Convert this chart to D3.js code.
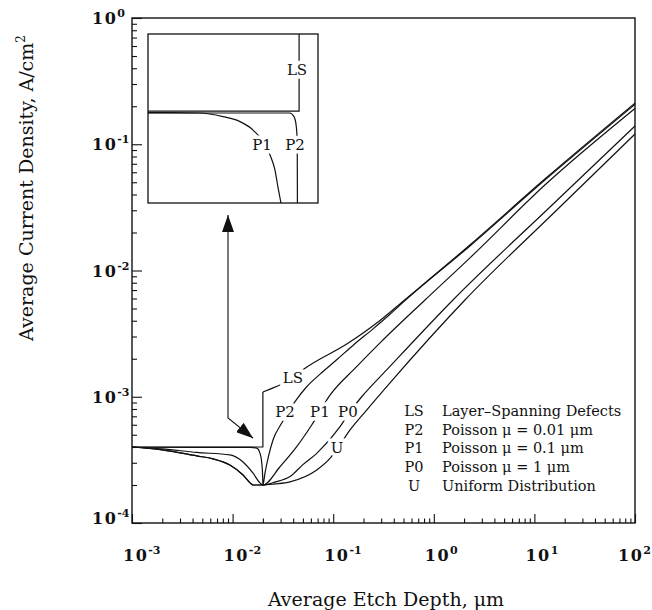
<!DOCTYPE html>
<html>
<head>
<meta charset="utf-8">
<script src="https://cdn.jsdelivr.net/npm/d3@7"></script>
<style>
  body { margin: 0; background: #fff; }
  svg text { font-family: "DejaVu Serif", serif; fill: #111; }
</style>
</head>
<body>
<svg id="chart" width="652" height="610"></svg>
<script>
// axis ticks
const xTicks = [1e-3, 1e-2, 1e-1, 1e0, 1e1, 1e2];
const xTickExp = ["-3", "-2", "-1", "0", "1", "2"];
const yTicks = [1e0, 1e-1, 1e-2, 1e-3, 1e-4];
const yTickExp = ["0", "-1", "-2", "-3", "-4"];

// main curves (etch depth in um, current density in A/cm2)
const lsX = [0.001, 0.02, 0.02, 0.0236, 0.0296, 0.04, 0.0525, 0.14, 0.292, 0.52, 2.3, 12.7, 100];
const lsY = [4.0e-4, 4.0e-4, 1.09e-3, 1.15e-3, 1.24e-3, 1.43e-3, 1.68e-3, 2.65e-3, 4.02e-3, 5.9e-3, 1.6e-2, 5.3e-2, 0.212];

const p2X = [0.001, 0.015, 0.0174, 0.0187, 0.0195, 0.0199, 0.02, 0.021, 0.0227, 0.0252, 0.0308, 0.0417, 0.0545, 0.074, 0.109, 0.157, 0.249, 0.367, 0.52, 2.3, 12.7, 100];
const p2Y = [3.98e-4, 3.97e-4, 3.92e-4, 3.58e-4, 2.99e-4, 2.33e-4, 2.0e-4, 2.49e-4, 3.35e-4, 4.54e-4, 6.19e-4, 9.14e-4, 1.2e-3, 1.51e-3, 1.97e-3, 2.55e-3, 3.45e-3, 4.5e-3, 5.8e-3, 1.57e-2, 5.2e-2, 0.207];

const p1X = [0.001, 0.002, 0.0044, 0.0094, 0.0127, 0.0159, 0.0187, 0.02, 0.0296, 0.0434, 0.0611, 0.0929, 0.171, 0.292, 0.818, 2.29, 12.7, 100];
const p1Y = [4.0e-4, 3.87e-4, 3.62e-4, 3.46e-4, 3.04e-4, 2.49e-4, 2.08e-4, 2.0e-4, 2.79e-4, 4.02e-4, 5.97e-4, 1.03e-3, 1.73e-3, 2.67e-3, 5.84e-3, 1.26e-2, 4.75e-2, 0.192];

const p0X = [0.001, 0.002, 0.0044, 0.0064, 0.0094, 0.0127, 0.0149, 0.016, 0.02, 0.0264, 0.0372, 0.05, 0.0686, 0.117, 0.147, 0.192, 0.34, 1.55, 15, 100];
const p0Y = [4.0e-4, 3.8e-4, 3.4e-4, 3.22e-4, 2.88e-4, 2.4e-4, 2.08e-4, 2.0e-4, 2.0e-4, 2.11e-4, 2.33e-4, 2.9e-4, 3.56e-4, 5.79e-4, 7.62e-4, 1.0e-3, 1.63e-3, 5.84e-3, 3.3e-2, 0.1395];

const uX = [0.001, 0.002, 0.0044, 0.0064, 0.0094, 0.0127, 0.0149, 0.016, 0.02, 0.0264, 0.0372, 0.0686, 0.0929, 0.108, 0.147, 0.215, 0.367, 2.04, 18.8, 100];
const uY = [4.0e-4, 3.8e-4, 3.4e-4, 3.22e-4, 2.88e-4, 2.4e-4, 2.08e-4, 2.0e-4, 2.0e-4, 2.04e-4, 2.12e-4, 2.63e-4, 3.25e-4, 3.79e-4, 5.46e-4, 7.85e-4, 1.29e-3, 5.84e-3, 3.3e-2, 0.1206];

// curve labels on the main plot
const lblText = ["LS", "P2", "P1", "P0", "U"];
const lblX = [0.0398, 0.0332, 0.0737, 0.14, 0.109];
const lblY = [1.41e-3, 7.57e-4, 7.57e-4, 7.57e-4, 3.93e-4];

// legend
const legKey = ["LS", "P2", "P1", "P0", "U"];
const legText = ["Layer\u2013Spanning Defects", "Poisson \u03bc = 0.01 \u03bcm", "Poisson \u03bc = 0.1 \u03bcm", "Poisson \u03bc = 1 \u03bcm", "Uniform Distribution"];

// inset: magnified corner near 0.02 um
const inLsX = [0.0192, 0.02, 0.02];
const inLsY = [4.0e-4, 4.0e-4, 4.5e-4];
const inP2X = [0.0192, 0.01995, 0.019973, 0.019984, 0.01999, 0.019991];
const inP2Y = [3.99e-4, 3.99e-4, 3.97e-4, 3.925e-4, 3.84e-4, 3.5e-4];
const inP1X = [0.0192, 0.019475, 0.019597, 0.019687, 0.019756, 0.019846, 0.019872, 0.019888, 0.019904];
const inP1Y = [3.992e-4, 3.99e-4, 3.97e-4, 3.943e-4, 3.897e-4, 3.761e-4, 3.68e-4, 3.587e-4, 3.5e-4];
const inLblText = ["LS", "P2", "P1"];
const inLblX = [0.019989, 0.019978, 0.019804];
const inLblY = [4.224e-4, 3.816e-4, 3.816e-4];

// arrow between inset and dip
const arrowX = [0.009, 0.009, 0.016];
const arrowY = [0.0275, 6.8e-4, 4.7e-4];

const svg = d3.select("#chart");
const ink = "#111";
const W = +svg.attr("width");

const x = d3.scaleLog().domain([1e-3, 1e2]).range([132, 635]);
const y = d3.scaleLog().domain([1e-4, 1e0]).range([523, 18]);

const zip = (xs, ys) => xs.map((v, i) => [v, ys[i]]);

// frame
svg.append("rect")
    .attr("x", x.range()[0]).attr("y", y.range()[1])
    .attr("width", x.range()[1] - x.range()[0])
    .attr("height", y.range()[0] - y.range()[1])
    .attr("fill", "none").attr("stroke", ink).attr("stroke-width", 1.4);

// ticks, inward
const isMajor = (v, list) => list.some(t => Math.abs(v / t - 1) < 1e-6);
const minorX = x.ticks().filter(v => !isMajor(v, xTicks));
const minorY = y.ticks().filter(v => !isMajor(v, yTicks));

function tickGroup(axis, tr) {
    svg.append("g").attr("transform", tr).call(axis)
        .call(g => g.select(".domain").remove())
        .call(g => g.selectAll("line").attr("stroke", ink).attr("stroke-width", 1.1));
}
const bottomY = y.range()[0], leftX = x.range()[0];
tickGroup(d3.axisBottom(x).tickValues(minorX).tickSize(-4.5).tickFormat(""), `translate(0,${bottomY})`);
tickGroup(d3.axisBottom(x).tickValues(xTicks).tickSize(-9).tickFormat(""), `translate(0,${bottomY})`);
tickGroup(d3.axisLeft(y).tickValues(minorY).tickSize(-5).tickFormat(""), `translate(${leftX},0)`);
tickGroup(d3.axisLeft(y).tickValues(yTicks).tickSize(-10).tickFormat(""), `translate(${leftX},0)`);

// tick labels, "10" with superscript
function powLabel(sel, exp) {
    sel.attr("font-family", "Liberation Serif").attr("font-weight", "bold")
        .attr("font-size", 16).attr("letter-spacing", 1.5);
    sel.append("tspan").text("10");
    sel.append("tspan").attr("dy", -7).attr("font-size", 11).attr("letter-spacing", 0).text(exp);
}
xTicks.forEach((v, i) => {
    const t = svg.append("text").attr("x", x(v) - 9).attr("y", 561);
    powLabel(t, xTickExp[i]);
    // keep the last label inside the picture
    const b = t.node().getBBox();
    if (b.x + b.width > W - 1) t.attr("x", W - 1 - b.width);
});
yTicks.forEach((v, i) => {
    const t = svg.append("text").attr("x", 92).attr("y", y(v) + (i === yTicks.length - 1 ? 1 : 6));
    powLabel(t, yTickExp[i]);
});

// axis titles
svg.append("text").attr("x", 386).attr("y", 606).attr("text-anchor", "middle")
    .attr("font-size", 19).text("Average Etch Depth, \u03bcm");
const yt = svg.append("text").attr("transform", "translate(33,188) rotate(-90)")
    .attr("text-anchor", "middle").attr("font-size", 19);
yt.append("tspan").text("Average Current Density, A/cm");
yt.append("tspan").attr("dy", -8).attr("font-size", 12).text("2");

// curves
const line = d3.line().x(d => x(d[0])).y(d => y(d[1])).curve(d3.curveMonotoneX);
const lineLin = d3.line().x(d => x(d[0])).y(d => y(d[1]));
const curves = [zip(p2X, p2Y), zip(p1X, p1Y), zip(p0X, p0Y), zip(uX, uY)];
const lsPts = zip(lsX, lsY);

const gCurves = svg.append("g").attr("fill", "none").attr("stroke", ink).attr("stroke-width", 1.2);
gCurves.append("path").attr("d", lineLin(lsPts.slice(0, 3)));
gCurves.append("path").attr("d", line(lsPts.slice(2)));
gCurves.selectAll("path.c").data(curves).enter().append("path")
    .attr("class", "c").attr("d", d => line(d));

// curve labels, white halo breaks the line
svg.append("g").selectAll("text").data(lblText).enter().append("text")
    .attr("x", (d, i) => x(lblX[i])).attr("y", (d, i) => y(lblY[i]))
    .attr("text-anchor", "middle").attr("dominant-baseline", "central")
    .attr("font-size", 15).attr("stroke", "#fff").attr("stroke-width", 7)
    .attr("paint-order", "stroke").text(d => d);

// legend
const leg = svg.append("g").attr("font-size", 14.5);
legKey.forEach((k, i) => {
    const by = 416 + i * 18.7;
    leg.append("text").attr("x", 414).attr("y", by).attr("text-anchor", "middle").text(k);
    leg.append("text").attr("x", 442).attr("y", by).text(legText[i]);
});

// inset
const xi = d3.scaleLinear().domain([0.0192, 0.0201]).range([148, 318]);
const yi = d3.scaleLinear().domain([3.5e-4, 4.42e-4]).range([203, 34]);
svg.append("clipPath").attr("id", "insetClip").append("rect")
    .attr("x", 148).attr("y", 34).attr("width", 170).attr("height", 169);
svg.append("rect").attr("x", 148).attr("y", 34).attr("width", 170).attr("height", 169)
    .attr("fill", "#fff").attr("stroke", ink).attr("stroke-width", 1.3);
const iline = d3.line().x(d => xi(d[0])).y(d => yi(d[1])).curve(d3.curveMonotoneX);
const ilineLin = d3.line().x(d => xi(d[0])).y(d => yi(d[1]));
const gIn = svg.append("g").attr("clip-path", "url(#insetClip)")
    .attr("fill", "none").attr("stroke", ink).attr("stroke-width", 1.2);
gIn.append("path").attr("d", ilineLin(zip(inLsX, inLsY)));
gIn.append("path").attr("d", iline(zip(inP2X, inP2Y)));
gIn.append("path").attr("d", iline(zip(inP1X, inP1Y)));
svg.append("g").selectAll("text").data(inLblText).enter().append("text")
    .attr("x", (d, i) => xi(inLblX[i])).attr("y", (d, i) => yi(inLblY[i]))
    .attr("text-anchor", "middle").attr("dominant-baseline", "central")
    .attr("font-size", 15).attr("stroke", "#fff").attr("stroke-width", 7)
    .attr("paint-order", "stroke").text(d => d);

// double headed arrow
svg.append("defs").append("marker").attr("id", "head")
    .attr("viewBox", "0 0 17 12").attr("refX", 17).attr("refY", 6)
    .attr("markerWidth", 17).attr("markerHeight", 12)
    .attr("markerUnits", "userSpaceOnUse").attr("orient", "auto-start-reverse")
    .append("path").attr("d", "M0,0L17,6L0,12Z").attr("fill", ink);
svg.append("path").attr("d", lineLin(zip(arrowX, arrowY)))
    .attr("fill", "none").attr("stroke", ink).attr("stroke-width", 1.1)
    .attr("marker-start", "url(#head)").attr("marker-end", "url(#head)");
</script>
</body>
</html>
